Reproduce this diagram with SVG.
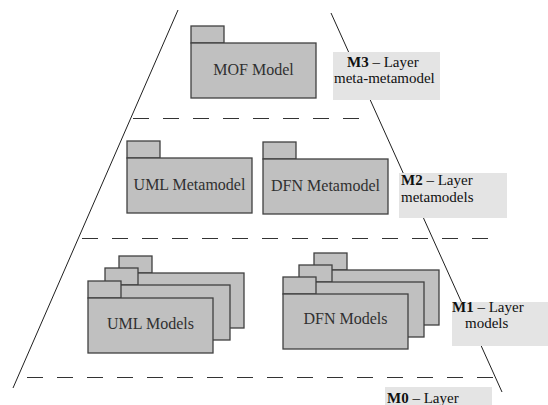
<svg xmlns="http://www.w3.org/2000/svg" xmlns:xlink="http://www.w3.org/1999/xlink" width="548" height="405" viewBox="0 0 548 405">
  <style>
    .pkg-part { fill: #c0c0c0; stroke: #404040; stroke-width: 1.3; }
    .pkg-label { font-family: "Liberation Serif", "Times New Roman", serif; font-size: 16px; fill: #303030; text-anchor: middle; }
    .side { stroke: #202020; stroke-width: 1; fill: none; }
    .divider { stroke: #333333; stroke-width: 1.2; stroke-dasharray: 16 14; fill: none; }
    .layer-box { fill: #e4e4e4; stroke: none; }
    .layer-text { font-family: "Liberation Serif", "Times New Roman", serif; font-size: 15px; fill: #101010; }
    .layer-text .b { font-weight: bold; }
  </style>
  <defs>
    <!-- UML package glyph: tab plus body -->
    <g id="package">
      <rect class="pkg-part" x="0" y="0" width="33" height="17"/>
      <rect class="pkg-part" x="0" y="17" width="125" height="55"/>
    </g>
  </defs>

  <rect width="548" height="405" fill="#ffffff"/>

  <!-- pyramid sides and layer dividers -->
  <g id="connectors">
    <line class="side" x1="178" y1="10" x2="13" y2="388"/>
    <line class="side" x1="331" y1="13" x2="502" y2="392"/>
    <line class="divider" x1="133" y1="118.5" x2="372" y2="118.5"/>
    <line class="divider" x1="82" y1="238.5" x2="490" y2="238.5"/>
    <line class="divider" x1="27" y1="377.5" x2="494" y2="377.5"/>
  </g>

  <!-- M3 layer -->
  <g id="mof-model">
    <use xlink:href="#package" x="191" y="26"/>
    <text class="pkg-label" x="253.5" y="75">MOF Model</text>
  </g>

  <!-- M2 layer -->
  <g id="uml-metamodel">
    <use xlink:href="#package" x="127" y="141"/>
    <text class="pkg-label" x="189.5" y="190">UML Metamodel</text>
  </g>
  <g id="dfn-metamodel">
    <use xlink:href="#package" x="263" y="142"/>
    <text class="pkg-label" x="325.5" y="191">DFN Metamodel</text>
  </g>

  <!-- M1 layer: stacked model packages -->
  <g id="uml-models">
    <use xlink:href="#package" x="119" y="256"/>
    <use xlink:href="#package" x="105" y="268"/>
    <use xlink:href="#package" x="88" y="281"/>
    <text class="pkg-label" x="150.5" y="329">UML Models</text>
  </g>
  <g id="dfn-models">
    <use xlink:href="#package" x="314" y="253"/>
    <use xlink:href="#package" x="299" y="265"/>
    <use xlink:href="#package" x="283" y="277"/>
    <text class="pkg-label" x="345.5" y="324">DFN Models</text>
  </g>

  <!-- layer captions -->
  <g id="label-m3">
    <rect class="layer-box" x="333" y="52" width="107" height="48"/>
    <text class="layer-text" x="347" y="67"><tspan class="b">M3</tspan> – Layer</text>
    <text class="layer-text" x="334" y="83">meta-metamodel</text>
  </g>
  <g id="label-m2">
    <rect class="layer-box" x="399" y="173" width="108" height="45"/>
    <text class="layer-text" x="401" y="185"><tspan class="b">M2</tspan> – Layer</text>
    <text class="layer-text" x="401" y="202">metamodels</text>
  </g>
  <g id="label-m1">
    <rect class="layer-box" x="452" y="302" width="96" height="44"/>
    <text class="layer-text" x="452" y="312"><tspan class="b">M1</tspan> – Layer</text>
    <text class="layer-text" x="465" y="328">models</text>
  </g>
  <g id="label-m0">
    <rect class="layer-box" x="385" y="387" width="107" height="18"/>
    <text class="layer-text" x="387" y="403"><tspan class="b">M0</tspan> – Layer</text>
  </g>
</svg>
